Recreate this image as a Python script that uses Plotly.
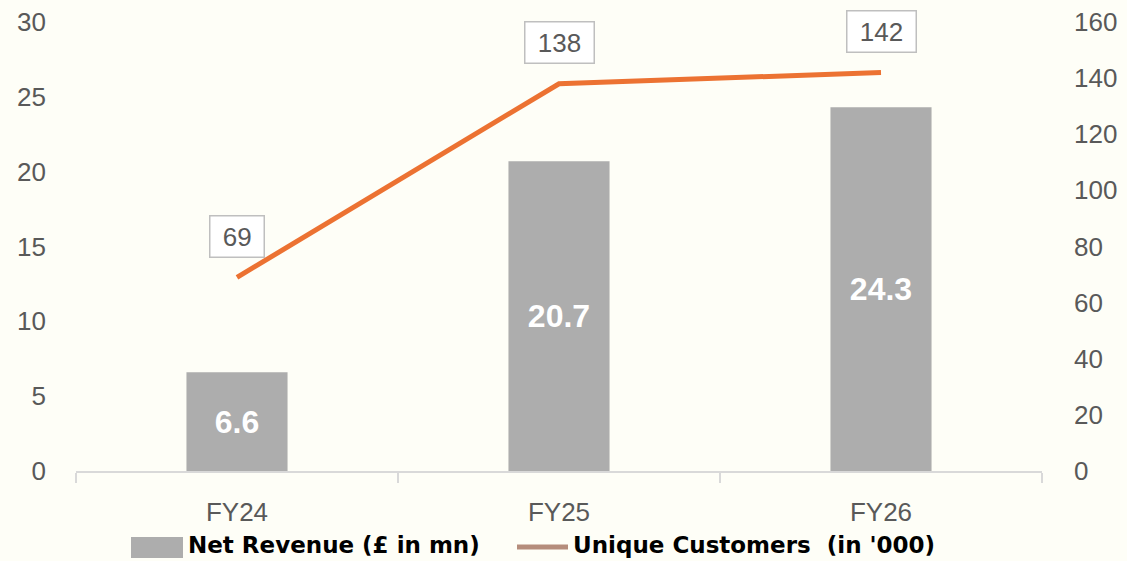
import plotly.graph_objects as go

categories = ["FY24", "FY25", "FY26"]
net_revenue = [6.6, 20.7, 24.3]
unique_customers = [69, 138, 142]
revenue_name = "Net Revenue (£ in mn)"
customers_name = "Unique Customers  (in '000)"

BG = "#FEFEF7"
BAR = "#ADADAD"
LINE = "#EC7232"
TXT = "#595959"

# plot area in pixels
L, R, T, B = 76, 1042, 22, 471
W, H = R - L, B - T


def px(x):
    return (x - L) / W


def py(y):
    return (B - y) / H


fig = go.Figure()
fig.add_trace(go.Bar(
    x=categories, y=net_revenue, name=revenue_name,
    marker=dict(color=BAR, line=dict(width=0)), width=0.314,
    text=[f"{v:.1f}" for v in net_revenue], textposition="inside",
    insidetextanchor="middle", textangle=0,
    textfont=dict(family="Liberation Sans, Arial", size=32, color="white", weight="bold"),
    showlegend=False, hoverinfo="skip",
))
fig.add_trace(go.Scatter(
    x=categories, y=unique_customers, name=customers_name, yaxis="y2",
    mode="lines", line=dict(color=LINE, width=5), showlegend=False,
))

for c, v in zip(categories, unique_customers):
    fig.add_annotation(
        x=c, y=v, xref="x", yref="y2", yshift=41,
        text="\u00a0" + str(v) + "\u00a0", showarrow=False,
        font=dict(family="Liberation Sans, Arial", size=26, color=TXT),
        bgcolor="white", bordercolor="#BFBFBF", borderwidth=1.5, borderpad=5,
    )

# legend (manual)
LEG_FONT = dict(family="DejaVu Sans", size=23, color="black")
fig.add_shape(type="rect", xref="paper", yref="paper",
              x0=px(131), x1=px(183), y0=py(558), y1=py(537),
              fillcolor=BAR, line=dict(width=0))
fig.add_annotation(xref="paper", yref="paper", x=px(186), y=py(545),
                   xanchor="left", yanchor="middle", showarrow=False,
                   text="<b>" + revenue_name + "</b>", font=LEG_FONT)
fig.add_shape(type="line", xref="paper", yref="paper",
              x0=px(517), x1=px(568), y0=py(547), y1=py(547),
              line=dict(color="#B58D7C", width=5))
fig.add_annotation(xref="paper", yref="paper", x=px(571), y=py(545),
                   xanchor="left", yanchor="middle", showarrow=False,
                   text="<b>" + customers_name.replace("  ", "\u00a0 ") + "</b>",
                   font=LEG_FONT)

fig.update_layout(
    width=1127, height=561,
    margin=dict(l=L, r=1127 - R, t=T, b=561 - B, autoexpand=False),
    paper_bgcolor=BG, plot_bgcolor=BG,
    showlegend=False,
    font=dict(family="Liberation Sans, Arial", size=26, color=TXT),
    xaxis=dict(
        showline=True, linecolor="#D9D9D9", linewidth=2,
        ticks="outside", tickson="boundaries", ticklen=10, tickcolor="#D9D9D9", tickwidth=2,
        showgrid=False, zeroline=False, ticklabelstandoff=17,
        tickfont=dict(size=26, color=TXT),
    ),
    yaxis=dict(
        range=[0, 30], dtick=5, showgrid=False, zeroline=False, showline=False,
        ticklabelstandoff=29, tickfont=dict(size=26, color=TXT),
    ),
    yaxis2=dict(
        range=[0, 160], dtick=20, overlaying="y", side="right",
        showgrid=False, zeroline=False, showline=False,
        ticklabelstandoff=31, tickfont=dict(size=26, color=TXT),
    ),
)

fig.write_html(
    "out.html",
    config={"displayModeBar": False},
    post_script=f"document.body.style.margin='0';document.body.style.background='{BG}';"
                "document.body.style.overflow='hidden';",
)
